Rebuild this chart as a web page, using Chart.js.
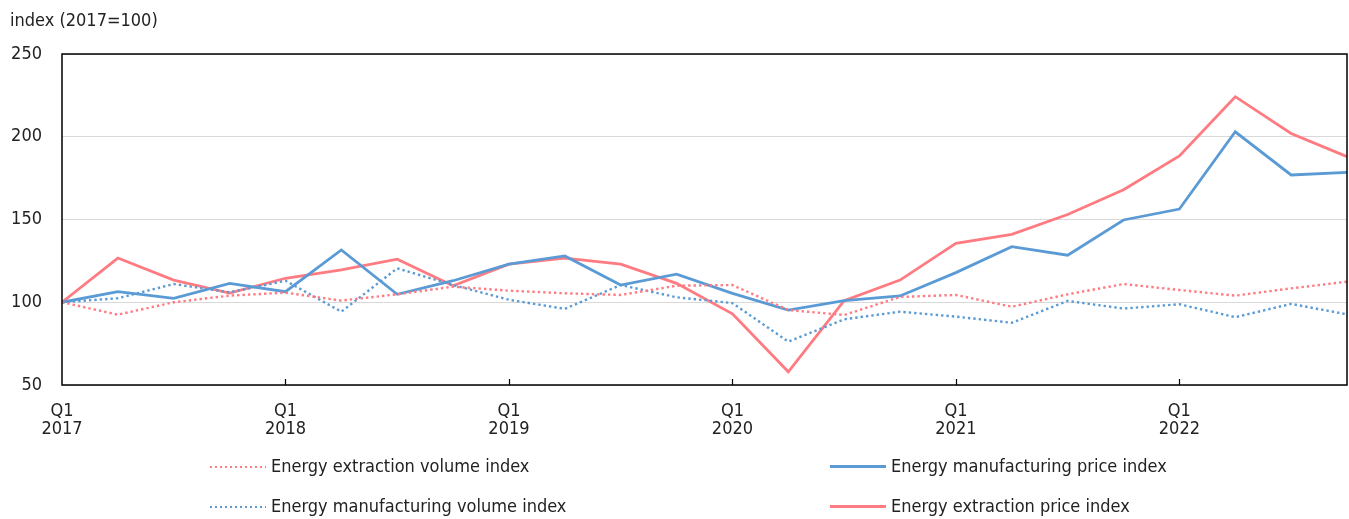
<!DOCTYPE html>
<html>
<head>
<meta charset="utf-8">
<script src="https://cdn.jsdelivr.net/npm/chart.js@4/dist/chart.umd.min.js"></script>
<style>
    body { margin: 0; background: #fff; }
    #wrap { position: relative; width: 1349px; height: 519px; font-family: 'Liberation Sans Narrow', 'DejaVu Sans Condensed', 'Liberation Sans', sans-serif; color: #222; }
    #unit { position: absolute; left: 10px; top: 9px; font-size: 18px; }
    .leg { position: absolute; font-size: 18px; line-height: 20px; }
    .leg .sw { position: absolute; left: 0; top: 9px; width: 56px; height: 3px; }
    .leg span { position: absolute; left: 61px; top: 0; white-space: nowrap; }
</style>
</head>
<body>
<div id="wrap">
    <canvas id="energyChart" width="1349" height="519"></canvas>
    <div id="unit">index (2017=100)</div>
    <div id="legend"></div>
</div>
<script>
// Quarterly data, Q1 2017 - Q4 2022
const quarters = [
    ['Q1', '2017'], '', '', '',
    ['Q1', '2018'], '', '', '',
    ['Q1', '2019'], '', '', '',
    ['Q1', '2020'], '', '', '',
    ['Q1', '2021'], '', '', '',
    ['Q1', '2022'], '', '', ''
];

const extractionVolume = [100, 92.5, 100, 104, 105.8, 101, 104.8, 109.4, 107, 105.4, 104.4, 110,
    110.4, 95.3, 92.3, 103.2, 104.4, 97.3, 104.8, 111, 107.4, 104, 108.4, 112.4];
const manufacturingVolume = [100, 102.4, 111, 106, 113, 94.3, 120.5, 110.4, 101.5, 96, 110.4, 103,
    99.5, 76.2, 89.7, 94.3, 91.3, 87.6, 100.8, 96.2, 98.8, 91, 99, 92.7];
const manufacturingPrice = [100, 106.4, 102.4, 111.4, 106.4, 131.6, 104.8, 113, 123, 128, 110.4, 117,
    105.4, 95.3, 101, 103.8, 117.9, 133.6, 128.4, 149.7, 156.3, 203, 176.9, 178.5];
const extractionPrice = [100, 126.7, 113.4, 105.5, 114.5, 119.5, 126, 110, 123, 126.6, 123, 111.4,
    93, 58, 101, 113.4, 135.6, 141, 153, 168, 188.4, 224.2, 202, 188];

const yTicks = [50, 100, 150, 200, 250];

const RED = '#ff7b82';
const BLUE = '#5b9bd5';
const FONT = "'Liberation Sans Narrow', 'DejaVu Sans Condensed', 'Liberation Sans', sans-serif";

const seriesList = [
    { label: 'Energy extraction volume index', data: extractionVolume, color: RED, dotted: true, col: 0, row: 0 },
    { label: 'Energy manufacturing price index', data: manufacturingPrice, color: BLUE, dotted: false, col: 1, row: 0 },
    { label: 'Energy manufacturing volume index', data: manufacturingVolume, color: BLUE, dotted: true, col: 0, row: 1 },
    { label: 'Energy extraction price index', data: extractionPrice, color: RED, dotted: false, col: 1, row: 1 }
];

// box around plot + small inside ticks at each Q1
const frame = {
    id: 'frame',
    afterDatasetsDraw(chart) {
        const { ctx, chartArea: a, scales } = chart;
        ctx.save();
        ctx.strokeStyle = '#000';
        ctx.lineWidth = 1.5;
        ctx.strokeRect(a.left, a.top, a.right - a.left, a.bottom - a.top);
        ctx.lineWidth = 1.2;
        quarters.forEach((q, i) => {
            if (!q || i === 0) return;
            const x = Math.round(scales.x.getPixelForValue(i)) + 0.5;
            ctx.beginPath();
            ctx.moveTo(x, a.bottom);
            ctx.lineTo(x, a.bottom - 6);
            ctx.stroke();
        });
        ctx.restore();
    }
};

new Chart(document.getElementById('energyChart'), {
    type: 'line',
    data: {
        labels: quarters,
        datasets: seriesList.map(s => ({
            label: s.label,
            data: s.data,
            borderColor: s.color,
            backgroundColor: s.color,
            borderWidth: s.dotted ? 2.4 : 2.8,
            borderDash: s.dotted ? [2.4, 3] : [],
            pointRadius: 0,
            tension: 0,
            fill: false
        }))
    },
    options: {
        responsive: false,
        animation: false,
        layout: { padding: { top: 54, right: 2, left: 0, bottom: 74 } },
        plugins: {
            legend: { display: false },
            tooltip: { enabled: false }
        },
        scales: {
            x: {
                offset: false,
                grid: { display: false, drawTicks: false },
                border: { display: false },
                afterFit: scale => {
                    scale.height = 60;
                    scale.paddingLeft = 0;
                    scale.paddingRight = 0;
                },
                ticks: {
                    autoSkip: false,
                    maxRotation: 0,
                    padding: 17,
                    color: '#222',
                    font: { family: FONT, size: 18, lineHeight: 1.0 }
                }
            },
            y: {
                min: 50,
                max: 250,
                afterFit: scale => { scale.width = 62; },
                afterBuildTicks: scale => { scale.ticks = yTicks.map(v => ({ value: v })); },
                grid: { color: '#d9d9d9', lineWidth: 1, drawTicks: false },
                border: { display: false },
                ticks: {
                    padding: 20,
                    color: '#222',
                    font: { family: FONT, size: 18 }
                }
            }
        }
    },
    plugins: [frame]
});

// two-column legend
const legendBox = document.getElementById('legend');
legendBox.innerHTML = seriesList.map(s => {
    const sw = s.dotted
        ? `background: repeating-linear-gradient(to right, ${s.color} 0 2px, transparent 2px 5px); height: 2px; top: 10px;`
        : `background: ${s.color};`;
    return `
        <div class="leg" style="left:${210 + s.col * 620}px; top:${456 + s.row * 40}px;">
            <div class="sw" style="${sw}"></div>
            <span>${s.label}</span>
        </div>`;
}).join('');
</script>
</body>
</html>
